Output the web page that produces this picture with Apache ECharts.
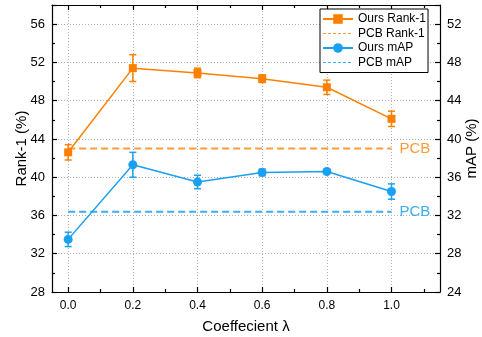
<!DOCTYPE html>
<html>
<head>
<meta charset="utf-8">
<script src="https://cdn.jsdelivr.net/npm/echarts@6/dist/echarts.min.js"></script>
<style>html,body{margin:0;padding:0;background:#fff}#c{width:482px;height:337px}</style>
</head>
<body>
<div id="c"></div>
<script>
const lambdas = [0.0, 0.2, 0.4, 0.6, 0.8, 1.0];
const rank1 = [42.6, 51.4, 50.9, 50.3, 49.4, 46.1];
const rank1Err = [0.8, 1.4, 0.5, 0.4, 0.75, 0.8];
const mAP = [29.5, 37.3, 35.5, 36.5, 36.6, 34.5];
const mAPErr = [0.75, 1.3, 0.7, 0.35, 0.2, 0.8];
const pcbRank1 = 43.0;
const pcbMAP = 32.4;
const xMajor = [0.0, 0.2, 0.4, 0.6, 0.8, 1.0];
const xMinor = [0.1, 0.3, 0.5, 0.7, 0.9, 1.1];

const ORANGE = '#FF8000', ORANGE_L = '#FF9A3A';
const BLUE = '#1AA0F0', BLUE_L = '#3AAEF2';
const FONT = 'Liberation Sans, Arial, sans-serif';

const chart = echarts.init(document.getElementById('c'), null, {renderer: 'canvas'});

function errBar(color) {
  return function (params, api) {
    const x = api.value(0), lo = api.value(1), hi = api.value(2);
    const t = api.coord([x, hi]), b = api.coord([x, lo]);
    const w = 3.5;
    const st = {stroke: color, lineWidth: 1.5};
    return {type: 'group', children: [
      {type: 'line', shape: {x1: t[0], y1: t[1], x2: b[0], y2: b[1]}, style: st},
      {type: 'line', shape: {x1: t[0] - w, y1: t[1], x2: t[0] + w, y2: t[1]}, style: st},
      {type: 'line', shape: {x1: b[0] - w, y1: b[1], x2: b[0] + w, y2: b[1]}, style: st}
    ]};
  };
}

const axisLine = {show: true, onZero: false, lineStyle: {color: '#000', width: 1.2}};
const xBase = {type: 'value', min: -0.05, max: 1.15, gridIndex: 0};
const hiddenSym = {color: 'rgba(0,0,0,0)', borderWidth: 0, opacity: 0};

const option = {
  animation: false,
  backgroundColor: '#fff',
  grid: {left: 52, right: 42, top: 5, bottom: 45, containLabel: false, outerBoundsMode: 'none'},
  legend: {
    orient: 'vertical', left: 320, top: 9,
    padding: [4, 2, 4, 2], itemGap: 2.5, itemWidth: 30, itemHeight: 12,
    backgroundColor: '#fff', borderColor: '#000', borderWidth: 1,
    textStyle: {fontFamily: FONT, fontSize: 12, color: '#000'},
    data: [
      {name: 'Ours Rank-1'},
      {name: 'PCB Rank-1', lineStyle: {color: ORANGE_L, width: 1, type: [3, 2]}, itemStyle: hiddenSym},
      {name: 'Ours mAP'},
      {name: 'PCB mAP', lineStyle: {color: BLUE_L, width: 1, type: [3, 2]}, itemStyle: hiddenSym}
    ]
  },
  xAxis: [
    Object.assign({}, xBase, {
      position: 'bottom',
      name: 'Coeffecient λ', nameLocation: 'middle', nameGap: 27, nameMoveOverlap: false,
      nameTextStyle: {fontFamily: FONT, fontSize: 15, color: '#000'},
      axisLine: axisLine,
      axisTick: {show: true, inside: true, length: 5, customValues: xMajor, lineStyle: {color: '#000', width: 1.2}},
      axisLabel: {show: true, customValues: xMajor, margin: 8, fontFamily: FONT, fontSize: 12, color: '#000',
        formatter: v => Number(v).toFixed(1)},
      splitLine: {show: true, lineStyle: {color: '#B0B0B0', width: 1, type: [1, 2]}}
    }),
    Object.assign({}, xBase, {
      position: 'bottom',
      axisLine: {show: false, onZero: false},
      axisTick: {show: true, inside: true, length: 3, customValues: xMinor, lineStyle: {color: '#000', width: 1.2}},
      axisLabel: {show: false},
      splitLine: {show: false}
    }),
    Object.assign({}, xBase, {
      position: 'top',
      axisLine: axisLine,
      axisTick: {show: true, inside: true, length: 5, customValues: xMajor, lineStyle: {color: '#000', width: 1.2}},
      axisLabel: {show: false},
      splitLine: {show: false}
    }),
    Object.assign({}, xBase, {
      position: 'top',
      axisLine: {show: false, onZero: false},
      axisTick: {show: true, inside: true, length: 3, customValues: xMinor, lineStyle: {color: '#000', width: 1.2}},
      axisLabel: {show: false},
      splitLine: {show: false}
    })
  ],
  yAxis: [
    {
      type: 'value', position: 'left', min: 28, max: 58, interval: 4,
      name: 'Rank-1 (%)', nameLocation: 'middle', nameGap: 23, nameRotate: 90, nameMoveOverlap: false,
      nameTextStyle: {fontFamily: FONT, fontSize: 15, color: '#000'},
      axisLine: axisLine,
      axisTick: {show: true, inside: true, length: 5, lineStyle: {color: '#000', width: 1.2}},
      minorTick: {show: true, splitNumber: 2, length: 3, lineStyle: {color: '#000', width: 1.2}},
      axisLabel: {margin: 7, fontFamily: FONT, fontSize: 13, color: '#000', showMaxLabel: false},
      splitLine: {show: true, lineStyle: {color: '#B0B0B0', width: 1, type: [1, 2]}},
      minorSplitLine: {show: false}
    },
    {
      type: 'value', position: 'right', min: 24, max: 54, interval: 4,
      name: 'mAP (%)', nameLocation: 'middle', nameGap: 24, nameRotate: 90, nameMoveOverlap: false,
      nameTextStyle: {fontFamily: FONT, fontSize: 15, color: '#000'},
      axisLine: axisLine,
      axisTick: {show: true, inside: true, length: 5, lineStyle: {color: '#000', width: 1.2}},
      minorTick: {show: true, splitNumber: 2, length: 3, lineStyle: {color: '#000', width: 1.2}},
      axisLabel: {margin: 7, fontFamily: FONT, fontSize: 13, color: '#000', showMaxLabel: false},
      splitLine: {show: false}
    }
  ],
  series: [
    {
      type: 'custom', name: 'rank1err', xAxisIndex: 0, yAxisIndex: 0, z: 2,
      renderItem: errBar(ORANGE),
      encode: {x: 0, y: [1, 2]},
      data: lambdas.map((x, i) => [x, rank1[i] - rank1Err[i], rank1[i] + rank1Err[i]])
    },
    {
      type: 'custom', name: 'maperr', xAxisIndex: 0, yAxisIndex: 1, z: 2,
      renderItem: errBar(BLUE),
      encode: {x: 0, y: [1, 2]},
      data: lambdas.map((x, i) => [x, mAP[i] - mAPErr[i], mAP[i] + mAPErr[i]])
    },
    {
      type: 'line', name: 'PCB Rank-1', xAxisIndex: 0, yAxisIndex: 0, z: 1,
      symbol: 'none', color: ORANGE_L,
      lineStyle: {color: ORANGE_L, width: 2, type: [7, 4]},
      endLabel: {show: true, distance: 8, formatter: 'PCB', color: ORANGE_L, fontFamily: FONT, fontSize: 15},
      data: [[lambdas[0], pcbRank1], [lambdas[lambdas.length - 1], pcbRank1]]
    },
    {
      type: 'line', name: 'PCB mAP', xAxisIndex: 0, yAxisIndex: 1, z: 1,
      symbol: 'none', color: BLUE_L,
      lineStyle: {color: BLUE_L, width: 2, type: [7, 4]},
      endLabel: {show: true, distance: 8, formatter: 'PCB', color: BLUE_L, fontFamily: FONT, fontSize: 15},
      data: [[lambdas[0], pcbMAP], [lambdas[lambdas.length - 1], pcbMAP]]
    },
    {
      type: 'line', name: 'Ours Rank-1', xAxisIndex: 0, yAxisIndex: 0, z: 3,
      symbol: 'rect', symbolSize: 8, color: ORANGE,
      lineStyle: {color: ORANGE, width: 1.5},
      itemStyle: {color: ORANGE},
      data: lambdas.map((x, i) => [x, rank1[i]])
    },
    {
      type: 'line', name: 'Ours mAP', xAxisIndex: 0, yAxisIndex: 1, z: 3,
      symbol: 'circle', symbolSize: 9, color: BLUE,
      lineStyle: {color: BLUE, width: 1.5},
      itemStyle: {color: BLUE},
      data: lambdas.map((x, i) => [x, mAP[i]])
    }
  ]
};
chart.setOption(option);
</script>
</body>
</html>
